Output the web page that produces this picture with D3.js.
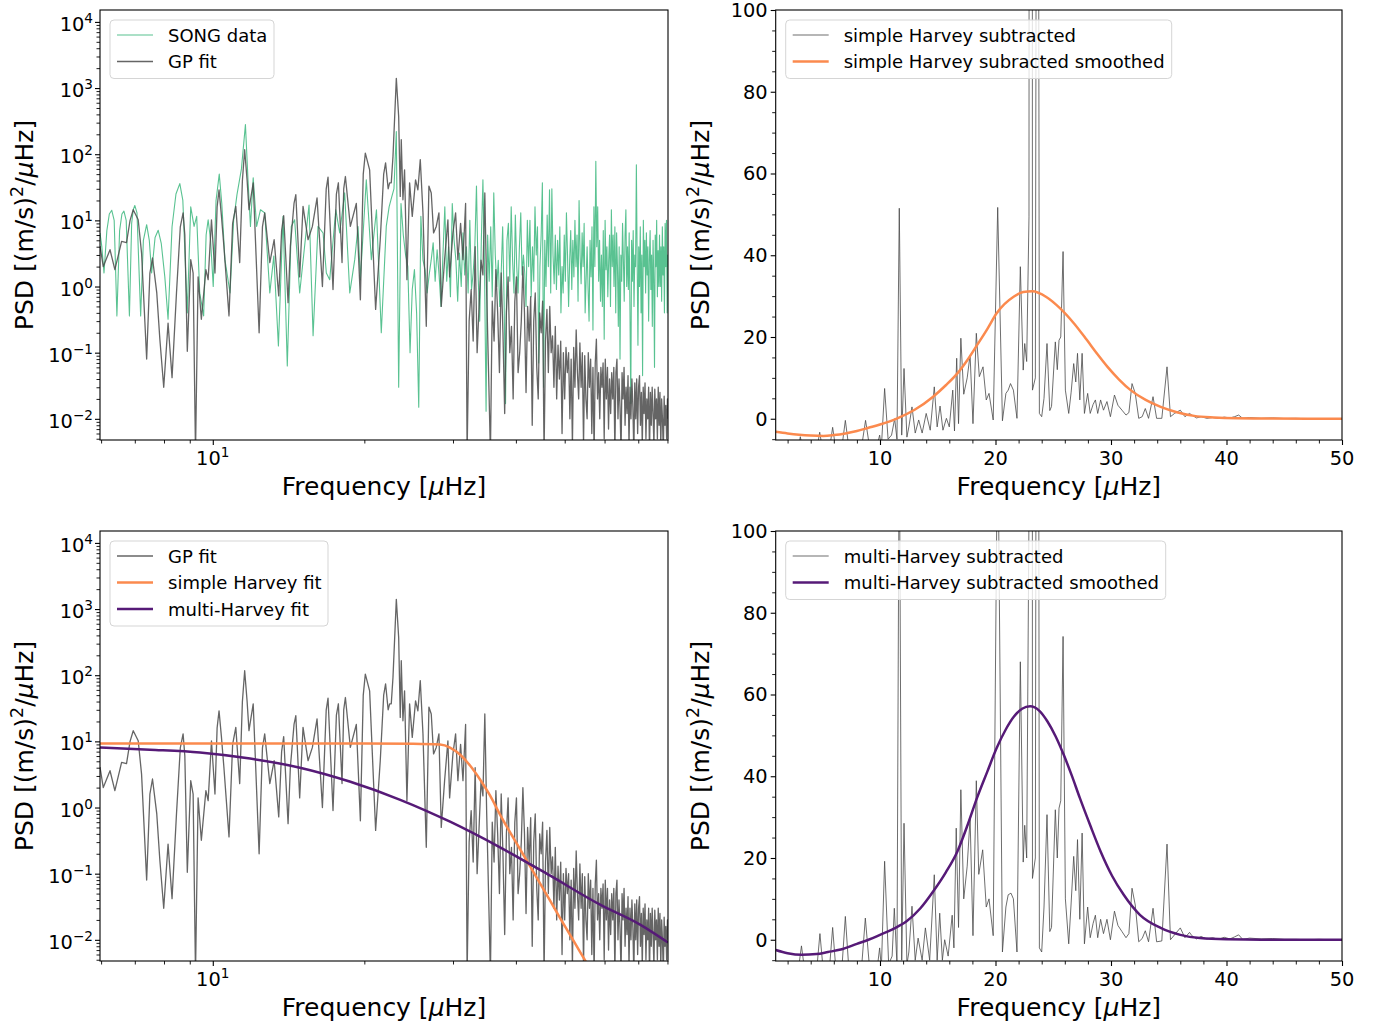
<!DOCTYPE html>
<html>
<head>
<meta charset="utf-8">
<script src="https://cdn.jsdelivr.net/npm/d3@7"></script>
<style>
  body { margin: 0; background: #fff; }
  svg text { font-family: "DejaVu Sans", sans-serif; fill: #000; }
</style>
</head>
<body>
<svg id="fig" width="1376" height="1028"></svg>
<script>
// ---- data ----
// GP fit, [frequency (uHz), PSD]; sparse part then a regular grid for the noisy tail
const gpLow = [[5.97,4.1],[6.06,2.0],[6.25,3.6],[6.39,1.8],[6.59,4.8],[6.74,4.6],[6.85,10],[6.95,14.5],[7.11,10.2],[7.22,3.2],[7.39,0.08],
  [7.50,1.6],[7.59,2.7],[7.74,0.8],[7.85,0.16],[7.99,0.03],[8.15,0.28],[8.30,0.042],[8.47,0.8],[8.62,8],[8.73,13],[8.80,6],[8.90,0.105],
  [9.04,2.55],[9.14,1.6],[9.24,0.003],[9.35,1.4],[9.49,0.32],[9.69,1.8],[9.79,1.27],[9.94,10.2],[10.10,1.6],[10.20,16],[10.29,29],
  [10.40,12],[10.52,4.1],[10.77,0.36],[10.95,9],[11.11,16.3],[11.31,2.3],[11.45,40],[11.57,117],[11.70,40],[11.80,14.5],[12.03,37],[12.36,0.2],[12.55,8],[12.68,13],[12.98,2.3],
  [13.24,5.1],[13.52,0.72],[13.70,7],[13.83,11.8],[14.11,0.57],[14.26,4.1],[14.50,18],[14.62,24.4],[14.88,1.4],[15.11,16.3],[15.46,5.1],[15.77,8.1],
  [16.11,21.8],[16.51,1.0],[16.80,30],[16.94,45],[17.33,0.9],[17.60,25],[17.76,37],[18.06,2.3],[18.20,30],[18.34,46],[18.76,8.1],[19.28,18],[19.64,0.63],
  [19.90,50],[20.09,104],[20.49,58],[21.06,0.45],[21.51,5.1],[21.85,50],[22.04,74],[22.30,30],[22.45,37],[22.62,37],[22.80,93],[23.15,1400],
  [23.40,371],[23.57,23],[23.68,166],[23.86,20.5],[24.04,58],[24.30,1.27],[24.60,37],[24.90,11.5],[25.28,41],[25.55,29],
  [25.83,83],[26.15,13],[26.55,0.25],[26.87,33],[27.16,26],[27.45,6.45],[27.79,8.1],[28.13,13],[28.43,0.5],[28.87,2.55],
  [29.31,10.2],[29.54,1.4],[29.99,6.45],[30.36,13],[30.68,2.55],[31.06,9],[31.40,2.55],[31.78,18]];
const gpTailStart = 32.0, gpTailStep = 0.3;
const gpTail = [0.003,0.3,0.9,0.15,4,0.1,0.5,2.5,1.5,26, 0.8,0.05,0.003,0.6,0.15,1.8,0.4,0.05,1.6,0.2,
  0.012,0.4,1.4,0.1,0.25,0.02,0.6,1.4,0.05,0.1, 0.3,2.0,0.4,0.025,0.5,0.15,0.7,0.008,0.3,0.8,
  0.06,0.02,0.4,0.2,0.6,0.003,0.15,0.45,0.05,0.5, 0.1,0.18,0.03,0.25,0.02,0.13,0.04,0.15,0.006,0.1,
  0.02,0.12,0.05,0.1,0.01,0.08,0.004,0.12,0.03,0.22, 0.05,0.02,0.14,0.03,0.1,0.004,0.09,0.02,0.01,0.1,
  0.03,0.08,0.006,0.06,0.003,0.07,0.16,0.02,0.05,0.01, 0.06,0.03,0.07,0.005,0.08,0.02,0.06,0.007,0.04,0.012,
  0.05,0.02,0.06,0.003,0.05,0.08,0.01,0.04,0.015,0.003, 0.05,0.02,0.06,0.008,0.03,0.012,0.045,0.004,0.03,0.01,
  0.04,0.015,0.003,0.035,0.01,0.04,0.006,0.03,0.045,0.008, 0.025,0.004,0.03,0.012,0.035,0.005,0.02,0.01,0.03,0.003,
  0.025,0.008,0.03,0.012,0.004,0.028,0.01,0.02,0.005,0.03, 0.008,0.025,0.004,0.02,0.01,0.003,0.022,0.008,0.016,0.005,
  0.02,0.01];

// SONG data
const songLow = [[5.97,6.45],[6.02,4],[6.08,1.6],[6.16,7],[6.23,12.5],[6.30,14.2],[6.37,10],[6.45,0.36],[6.53,7],[6.60,12.5],
  [6.66,13.8],[6.73,10],[6.83,0.36],[6.90,9],[6.95,14.5],[7.00,16.8],[7.07,13],[7.19,0.36],[7.28,5],[7.39,8.6],
  [7.48,5],[7.56,1.6],[7.68,5.5],[7.79,7.1],[7.90,4.5],[8.03,1.4],[8.15,0.32],[8.30,8],[8.45,25],[8.60,36],
  [8.72,20],[8.90,0.4],[9.04,16],[9.18,8.1],[9.29,11.5],[9.42,0.8],[9.59,0.36],[9.70,6],[9.79,10.2],[9.90,5],
  [10.02,1.0],[10.15,20],[10.30,50],[10.42,18],[10.57,2.55],[10.82,0.8],[11.00,10],[11.17,24.5],[11.40,60],[11.61,280],
  [11.75,40],[11.88,8.1],[12.03,44],[12.22,8.1],[12.44,14.5],[12.68,13],[12.98,0.8],[13.22,2.9],[13.50,0.126],[13.79,11.5],
  [14.06,0.063],[14.32,8.1],[14.54,10.2],[14.88,0.8],[15.22,4.1],[15.53,17],[15.82,0.18],[16.18,8.1],[16.56,6.45],[16.81,1.6],
  [17.07,1.27],[17.55,14.5],[17.87,6.45],[18.28,26],[18.71,0.8],[19.14,2.55],[19.43,8.1],[19.64,1.27],[20.18,41],[20.65,2.55],
  [21.14,14.5],[21.61,0.2],[22.11,8.1]];
const songTailStart = 22.4, songTailStep = 0.25;
const songTail = [
  16,22,30,220,0.03,18,6,3,2,0.1,0.9,1.8,0.4,0.015,11.5,2.5,1.8,0.8,1.5,2.5,
  4.6,1.2,3.6,1.5,0.5,3,16,1.2,4,0.7,18,5,2.5,0.6,3.2,1.0,6.5,1.5,4,0.8,
  10,0.9,1.6,4,33,1.5,0.3,5,41,2,0.013,6,1.2,8,0.7,26,3,1.0,2.5,0.5,
  1.6,8,0.6,0.017,5,9,1.2,16,2.5,0.8,12,2,0.8,4,13,1.5,3,1.6,0.5,10,
  2,10,0.7,4,1.2,16,3,8,0.07,2,6,37,0.03,5,1,12,2,29,0.8,30,
  3,1.1,6,0.9,5,1.5,8,0.4,2,0.8,6,1.2,13,3,0.5,2.5,7,0.9,5,1.4,
  10,2,6,0.6,20,3,1.1,6.5,2,9,0.4,1.3,4,0.9,0.3,5,1.4,8,0.22,16,
  2,78,4,16,1.2,5,0.6,3,0.5,7,0.16,10,1.8,4,0.7,2.5,6,0.5,14.5,2,
  6,1,8,0.4,6.5,2,0.25,4,0.08,3,1.2,9,2.5,0.6,6,14.5,1,4,0.9,6.5,
  0.4,0.017,5,1.2,7,0.5,3,2,69,2.5,0.13,4,1,8,0.4,3,0.045,10,2,5,
  0.8,6.5,1.5,4,0.3,2.5,7,0.9,3,0.25,5,1.3,0.06,6,2,10,0.7,3.5,1,6,
  1,4,0.6,8,1.5,4,0.4,9,2,10,0.4,3,2];

// Harvey fits (bottom left)
const simpleFit = [[5.97,9.3],[10,9.3],[15,9.3],[20,9.3],[25,9.2],[28.26,8.96],[29.59,8.07],[30.97,6.33],[32.43,4.31],[33.95,2.65],
  [35.53,1.52],[37.2,0.78],[40.8,0.232],[44.7,0.071],[48.9,0.0217],[53.6,0.00665],[56.1,0.0037]];
const multiFit = [[5.97,8.1],[7.5,7.5],[9.43,6.8],[11.86,5.5],[14.9,4.0],[18.7,2.47],[23.5,1.32],[29.6,0.61],[37.2,0.25],[46.7,0.094],
  [58.8,0.034],[70.6,0.017],[80.2,0.0091]];

// simple Harvey subtracted (top right)
const simpleSub = [[0.97,-9],[2.9,-8],[3.1,-4.4],[3.35,-8],[4.5,-8],[4.78,-3.3],[5.05,-8],[5.6,-8],[5.9,-2.1],[6.2,-8],
  [6.7,-7],[7.0,-0.4],[7.3,-7],[8.4,-7],[8.75,-0.4],[9.1,-7],[9.8,-6],[9.97,-4],[10.12,-7],[10.4,7.4],
  [10.7,-5],[11.0,-4],[11.27,0],[11.47,-5],[11.67,51.5],[11.88,-4],[12.08,12.3],[12.33,-4.5],[12.5,-2],[12.77,2.9],
  [13.05,-3.5],[13.35,-0.3],[13.65,-3.5],[14.0,1.3],[14.35,-2.8],[14.7,7.8],[14.95,-2],[15.2,3.1],[15.45,-2.8],[15.75,0.1],
  [16.0,-2],[16.3,7],[16.45,-3],[16.64,14.8],[16.8,-1.2],[17.0,19.7],[17.25,6],[17.55,10],[17.8,15.6],[18.05,-1.2],
  [18.34,20.9],[18.6,10.3],[18.92,12.7],[19.2,4.6],[19.44,6.2],[19.8,-0.3],[20.19,51.7],[20.6,-0.5],[20.9,6.2],[21.1,7],
  [21.3,8.6],[21.55,7],[21.86,0.1],[22.15,37.2],[22.4,11.9],[22.53,18.4],[22.7,14],[22.9,49.4],[23.06,1400],[23.2,7],
  [23.45,10],[23.64,300],[23.8,1.3],[24.0,0.5],[24.2,5],[24.46,18.4],[24.7,2],[24.85,3],[25.18,18.8],[25.35,12],
  [25.5,19.2],[25.65,20],[25.85,40.9],[26.05,7],[26.34,1.3],[26.55,6.5],[26.77,13.5],[26.95,9],[27.1,16],[27.3,4.6],
  [27.5,16],[27.7,1.3],[27.98,6.2],[28.2,1.3],[28.45,3.5],[28.65,4.6],[28.85,1.3],[29.1,4.6],[29.35,2.1],[29.65,4.2],
  [29.95,0.5],[30.3,5.8],[30.6,3.3],[30.95,2.1],[31.3,0.9],[31.55,1.5],[31.82,8.6],[32.1,6.2],[32.4,0.1],[32.7,0.5],
  [32.97,2.5],[33.25,0.1],[33.64,5.4],[33.95,0.1],[34.4,0.1],[34.85,12.7],[35.15,0.5],[35.5,1.3],[36.0,2.1],[36.4,0.5],
  [36.8,1.3],[37.0,0.9],[37.4,0.2],[37.8,0.5],[38.3,0.1],[38.8,0.3],[39.3,0.1],[39.8,0.4],[40.3,0.2],[40.7,0.5],
  [41.05,0.9],[41.4,0.1],[42,0.3],[43,0.1],[44,0.2],[45,0.05],[46,0.1],[47,0],[48,0.05],[49,0],[50,0]];
const simpleSmooth = [[0.97,-3.2],[2,-3.6],[3,-3.9],[4,-4.1],[5.1,-4.2],[6,-4.0],[7,-3.6],[8,-3.0],[9,-2.2],[10,-1.4],
  [11.5,0.1],[13,2.2],[14.6,5.4],[15.7,8.2],[16.7,11.1],[17.6,14.5],[18.4,18.0],[19.3,22],[20.1,25.8],[21.6,29.9],
  [22.4,31.0],[23.2,31.2],[24.4,29.8],[25.6,27.0],[26.8,23.3],[27.9,19.3],[28.8,15.9],[29.7,12.7],[30.7,9.6],[31.7,7.0],
  [33,4.6],[34.3,2.9],[35.7,1.6],[37.2,0.7],[38.9,0.3],[40.9,0.1],[44,0.03],[47,0],[50,0]];

// multi-Harvey subtracted (bottom right)
const multiSub = [[0.97,-9],[2.9,-8],[3.2,-1.5],[3.5,-8],[4.5,-8],[4.8,1.5],[5.1,-8],[5.6,-8],[5.9,3],[6.2,-8],
  [6.7,-7],[7.0,5.7],[7.3,-7],[8.4,-7],[8.73,5.3],[9.1,-7],[9.8,-6],[9.97,-2],[10.12,-7],[10.4,19.2],
  [10.75,-6],[11.05,-4],[11.24,7.7],[11.47,-6],[11.67,130],[11.88,-5],[12.08,28.5],[12.33,-6],[12.5,-3],[12.77,8.2],
  [13.05,-5],[13.3,0.4],[13.65,-5],[13.93,2.9],[14.3,-5],[14.7,15.9],[14.95,-5],[15.17,6.5],[15.4,-5],[15.6,0],
  [15.9,-4],[16.25,6],[16.4,-2],[16.6,27.3],[16.8,3],[17.0,36.7],[17.25,10],[17.55,18],[17.8,29.8],[18.05,1],
  [18.34,38.9],[18.55,16],[18.89,22],[19.2,8],[19.44,10],[19.8,1],[20.19,130],[20.6,-3],[20.9,8],[21.1,11],
  [21.34,11.4],[21.55,10],[21.86,-3],[22.15,68],[22.4,19],[22.53,28],[22.7,20],[22.9,105],[23.06,1500],[23.2,15],
  [23.45,20],[23.64,350],[23.8,-2],[24.0,-3],[24.2,8],[24.46,30.6],[24.7,2],[24.85,3],[25.18,31.8],[25.35,20],
  [25.5,32.2],[25.65,34],[25.85,74.2],[26.05,10],[26.34,-1],[26.55,9],[26.77,20.4],[26.95,12],[27.1,24.5],[27.3,5],
  [27.5,26.1],[27.7,-1],[27.98,8],[28.2,0.5],[28.45,4],[28.65,6],[28.85,0.5],[29.1,5],[29.35,1.5],[29.65,5],
  [29.95,0],[30.3,7],[30.6,3.5],[30.95,2],[31.3,0.5],[31.55,1.5],[31.82,12.6],[32.1,8.5],[32.4,-0.5],[32.7,0.3],
  [32.97,2.2],[33.25,-0.5],[33.64,7.7],[33.95,-0.5],[34.4,-0.3],[34.85,23.4],[35.15,0],[35.5,1.2],[36.0,2.9],[36.4,0.5],
  [36.8,1.8],[37.0,1],[37.4,0.2],[37.8,0.8],[38.3,0.2],[38.8,0.5],[39.3,0.1],[39.8,0.6],[40.3,0.2],[40.7,0.7],
  [41.05,1.2],[41.4,0.1],[42,0.4],[43,0.2],[44,0.3],[45,0.1],[46,0.1],[47,0],[48,0.1],[49,0],[50,0]];
const multiSmooth = [[0.97,-2.5],[2,-3.3],[3.2,-3.7],[4.5,-3.5],[5.5,-3.0],[6.6,-2.4],[8,-1.0],[9,0],[10,1.2],[11.2,2.7],
  [12.3,4.5],[13.5,7.7],[14.6,11.8],[15.7,16.5],[16.7,21.6],[17.6,28.2],[18.4,34.7],[19.3,41.2],[20.1,46.9],[20.9,51.5],
  [21.6,54.6],[22.3,56.5],[23.0,57.1],[23.8,56.0],[24.5,53.4],[25.2,49.8],[25.9,45.3],[26.6,40.2],[27.3,34.7],[28.2,28.0],
  [29.1,21.6],[30.1,15.6],[31.1,11.0],[32.5,6.1],[34.3,2.9],[36,1.2],[37.7,0.4],[40,0.1],[43,0.02],[46,0],[50,0]];

// ---- figure ----
const svg = d3.select("#fig");
const GREEN = "#12a862", GREY = "#4a4a4a", ORANGE = "#fb8a4e", PURPLE = "#561a77";

const panels = {
  tl: {x0: 100, x1: 668, y0: 10, y1: 440},
  tr: {x0: 775.7, x1: 1342, y0: 10, y1: 440},
  bl: {x0: 100, x1: 668, y0: 531, y1: 961},
  br: {x0: 775.7, x1: 1342, y0: 531, y1: 961}
};

function withTail(pairs, start, step, vals) {
  const out = pairs.slice();
  vals.forEach((v, i) => out.push([start + i * step, v]));
  return out;
}
const gp = withTail(gpLow, gpTailStart, gpTailStep, gpTail);
const song = withTail(songLow, songTailStart, songTailStep, songTail);

let clipN = 0;
function clipFor(b) {
  const id = "clip" + (clipN++);
  svg.append("clipPath").attr("id", id).append("rect")
    .attr("x", b.x0).attr("y", b.y0).attr("width", b.x1 - b.x0).attr("height", b.y1 - b.y0);
  return svg.append("g").attr("clip-path", `url(#${id})`);
}

function tickSet(axisFn, scale, vals, size, width, tr) {
  const a = svg.append("g").attr("transform", tr)
    .call(axisFn(scale).tickValues(vals).tickSize(size).tickFormat(""));
  a.select(".domain").remove();
  a.selectAll("line").attr("stroke", "#000").attr("stroke-width", width);
}

function powText(x, y, k, anchor) {
  const t = svg.append("text").attr("x", x).attr("y", y).attr("text-anchor", anchor).style("font-size", "19.4px");
  t.append("tspan").text("10");
  t.append("tspan").attr("dy", -8).style("font-size", "13.6px").text(k < 0 ? "\u2212" + (-k) : String(k));
}

function axisLabels(b) {
  const cx = (b.x0 + b.x1) / 2;
  const t = svg.append("text").attr("x", cx).attr("y", b.y1 + 55).attr("text-anchor", "middle").style("font-size", "25px");
  t.append("tspan").text("Frequency [");
  t.append("tspan").style("font-style", "italic").text("\u03bc");
  t.append("tspan").text("Hz]");
  const cy = (b.y0 + b.y1) / 2;
  const u = svg.append("text").attr("transform", `translate(${b.x0 - 67},${cy}) rotate(-90)`)
    .attr("text-anchor", "middle").style("font-size", "25px");
  u.append("tspan").text("PSD [(m/s)");
  u.append("tspan").attr("dy", -10).style("font-size", "17.5px").text("2");
  u.append("tspan").attr("dy", 10).text("/");
  u.append("tspan").style("font-style", "italic").text("\u03bc");
  u.append("tspan").text("Hz]");
}

function frame(b) {
  svg.append("rect").attr("x", b.x0).attr("y", b.y0).attr("width", b.x1 - b.x0).attr("height", b.y1 - b.y0)
    .attr("fill", "none").attr("stroke", "#000").attr("stroke-width", 1.1);
}

function legend(b, w, items) {
  const lx = b.x0 + 10, ly = b.y0 + 10, h = 5.5 + items.length * 26.5;
  svg.append("rect").attr("x", lx).attr("y", ly).attr("width", w).attr("height", h).attr("rx", 4)
    .attr("fill", "#fff").attr("fill-opacity", 0.8).attr("stroke", "#d5d5d5").attr("stroke-width", 1);
  items.forEach((it, i) => {
    const yy = ly + 15 + i * 26.5;
    svg.append("line").attr("x1", lx + 7).attr("x2", lx + 43).attr("y1", yy).attr("y2", yy)
      .attr("stroke", it.color).attr("stroke-width", it.width).attr("stroke-opacity", it.opacity);
    svg.append("text").attr("x", lx + 58).attr("y", yy + 6.5).style("font-size", "18px").text(it.label);
  });
}

function logPanel(b) {
  const x = d3.scaleLog().domain([5.97, 80.2]).range([b.x0, b.x1]);
  const y = d3.scaleLog().domain([Math.pow(10, -2.32), Math.pow(10, 4.18)]).range([b.y1, b.y0]);
  const xMinor = [6, 7, 8, 9, 20, 30, 40, 50, 60, 70, 80];
  tickSet(d3.axisBottom, x, xMinor, 3.5, 0.9, `translate(0,${b.y1})`);
  tickSet(d3.axisBottom, x, [10], 5, 1.1, `translate(0,${b.y1})`);
  powText(x(10), b.y1 + 25, 1, "middle");
  const majors = d3.range(-2, 5);
  const minors = [];
  d3.range(-3, 5).forEach(k => d3.range(2, 10).forEach(m => {
    const v = m * Math.pow(10, k);
    if (v > y.domain()[0] && v < y.domain()[1]) minors.push(v);
  }));
  tickSet(d3.axisLeft, y, minors, 3.5, 0.9, `translate(${b.x0},0)`);
  tickSet(d3.axisLeft, y, majors.map(k => Math.pow(10, k)), 5, 1.1, `translate(${b.x0},0)`);
  majors.forEach(k => powText(b.x0 - 7, y(Math.pow(10, k)) + 9, k, "end"));
  axisLabels(b);
  return {x, y};
}

function linPanel(b) {
  const x = d3.scaleLinear().domain([0.97, 50]).range([b.x0, b.x1]);
  const y = d3.scaleLinear().domain([-5.2, 100]).range([b.y1, b.y0]);
  const xMaj = [10, 20, 30, 40, 50];
  const xMin = d3.range(2, 50, 2).filter(v => v % 10 !== 0);
  const yMaj = [0, 20, 40, 60, 80, 100];
  const yMin = d3.range(-5, 100, 5).filter(v => v % 20 !== 0);
  tickSet(d3.axisBottom, x, xMin, 3.5, 0.9, `translate(0,${b.y1})`);
  tickSet(d3.axisBottom, x, xMaj, 5, 1.1, `translate(0,${b.y1})`);
  tickSet(d3.axisLeft, y, yMin, 3.5, 0.9, `translate(${b.x0},0)`);
  tickSet(d3.axisLeft, y, yMaj, 5, 1.1, `translate(${b.x0},0)`);
  xMaj.forEach(v => svg.append("text").attr("x", x(v)).attr("y", b.y1 + 25).attr("text-anchor", "middle")
    .style("font-size", "19.4px").text(v));
  yMaj.forEach(v => svg.append("text").attr("x", b.x0 - 8).attr("y", y(v) + 7).attr("text-anchor", "end")
    .style("font-size", "19.4px").text(v));
  axisLabels(b);
  return {x, y};
}

function drawLine(g, s, data, color, width, opacity, curve) {
  const line = d3.line().x(d => s.x(d[0])).y(d => s.y(d[1])).curve(curve || d3.curveLinear);
  g.append("path").datum(data).attr("d", line).attr("fill", "none")
    .attr("stroke", color).attr("stroke-width", width).attr("stroke-opacity", opacity)
    .attr("stroke-linejoin", "round");
}

// top left
{
  const b = panels.tl, s = logPanel(b), g = clipFor(b);
  drawLine(g, s, song, GREEN, 1.1, 0.7);
  drawLine(g, s, gp, GREY, 1.3, 0.85);
  frame(b);
  legend(b, 164, [
    {label: "SONG data", color: GREEN, width: 1.1, opacity: 0.7},
    {label: "GP fit", color: GREY, width: 1.3, opacity: 0.85}
  ]);
}
// top right
{
  const b = panels.tr, s = linPanel(b), g = clipFor(b);
  drawLine(g, s, simpleSub, GREY, 1.0, 0.8);
  drawLine(g, s, simpleSmooth, ORANGE, 2.5, 1, d3.curveMonotoneX);
  frame(b);
  legend(b, 386, [
    {label: "simple Harvey subtracted", color: GREY, width: 1.0, opacity: 0.8},
    {label: "simple Harvey subracted smoothed", color: ORANGE, width: 2.5, opacity: 1}
  ]);
}
// bottom left
{
  const b = panels.bl, s = logPanel(b), g = clipFor(b);
  drawLine(g, s, gp, GREY, 1.3, 0.85);
  drawLine(g, s, simpleFit, ORANGE, 2.5, 1, d3.curveMonotoneX);
  drawLine(g, s, multiFit, PURPLE, 2.5, 1, d3.curveMonotoneX);
  frame(b);
  legend(b, 218, [
    {label: "GP fit", color: GREY, width: 1.3, opacity: 0.85},
    {label: "simple Harvey fit", color: ORANGE, width: 2.5, opacity: 1},
    {label: "multi-Harvey fit", color: PURPLE, width: 2.5, opacity: 1}
  ]);
}
// bottom right
{
  const b = panels.br, s = linPanel(b), g = clipFor(b);
  drawLine(g, s, multiSub, GREY, 1.0, 0.8);
  drawLine(g, s, multiSmooth, PURPLE, 2.5, 1, d3.curveMonotoneX);
  frame(b);
  legend(b, 380, [
    {label: "multi-Harvey subtracted", color: GREY, width: 1.0, opacity: 0.8},
    {label: "multi-Harvey subtracted smoothed", color: PURPLE, width: 2.5, opacity: 1}
  ]);
}
</script>
</body>
</html>
